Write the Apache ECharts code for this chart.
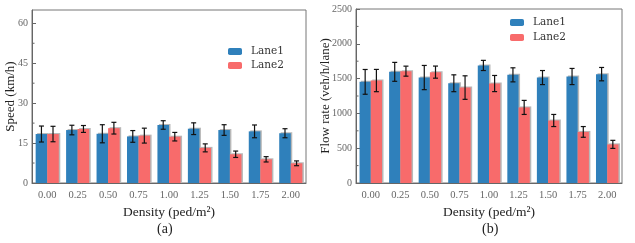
<!DOCTYPE html>
<html><head><meta charset="utf-8">
<script src="https://cdn.jsdelivr.net/npm/echarts@6/dist/echarts.min.js"></script>
<style>html,body{margin:0;padding:0;background:#fff}#c{width:635px;height:243px}</style>
</head><body><div id="c"></div>
<script>
const categories = ['0.00','0.25','0.50','0.75','1.00','1.25','1.50','1.75','2.00'];
const speedLane1 = [18.4, 19.9, 18.5, 17.5, 21.8, 20.4, 19.9, 19.4, 18.7];
const speedLane1Err = [3.0, 1.8, 3.4, 2.2, 1.6, 2.2, 2.0, 2.4, 1.7];
const speedLane2 = [18.4, 20.3, 20.6, 17.8, 17.4, 13.2, 10.8, 8.9, 7.4];
const speedLane2Err = [2.9, 1.3, 2.2, 2.8, 1.6, 1.5, 1.2, 1.0, 0.9];
const flowLane1 = [1453, 1597, 1515, 1433, 1689, 1554, 1515, 1530, 1564];
const flowLane1Err = [178, 136, 174, 121, 73, 101, 101, 116, 96];
const flowLane2 = [1472, 1607, 1593, 1371, 1429, 1086, 898, 734, 555];
const flowLane2Err = [160, 72, 87, 169, 116, 101, 87, 77, 58];
const speedTicks = [0, 15, 30, 45, 60];
const speedMinorTicks = [7.5, 22.5, 37.5, 52.5];
const flowTicks = [0, 500, 1000, 1500, 2000, 2500];
const flowMinorTicks = [250, 750, 1250, 1750, 2250];

const BLUE = '#2f80bb', RED = '#f86b6b';
const FONT = 'Liberation Serif';
const catGap = 0.24;

function errSeries(gi, vals, errs, side) {
  return {
    type: 'custom', xAxisIndex: gi, yAxisIndex: gi, z: 10,
    data: vals.map((v, i) => [i, v, errs[i]]),
    renderItem: function (params, api) {
      const x = api.value(0), v = api.value(1), e = api.value(2);
      const band = api.size([1, 0])[0];
      const off = side * band * (1 - catGap) / 4;
      const top = api.coord([x, v + e]);
      const bot = api.coord([x, v - e]);
      const cx = top[0] + off;
      const w = 2.5;
      const st = { stroke: '#111', lineWidth: 1.2 };
      return { type: 'group', children: [
        { type: 'line', shape: { x1: cx, y1: top[1], x2: cx, y2: bot[1] }, style: st },
        { type: 'line', shape: { x1: cx - w, y1: top[1], x2: cx + w, y2: top[1] }, style: st },
        { type: 'line', shape: { x1: cx - w, y1: bot[1], x2: cx + w, y2: bot[1] }, style: st }
      ]};
    }
  };
}
function barSeries(gi, name, vals, color) {
  return {
    type: 'bar', name: name, xAxisIndex: gi, yAxisIndex: gi,
    data: vals, barGap: '0%', barCategoryGap: (catGap * 100) + '%',
    itemStyle: { color: color, shadowColor: '#b8b8b8', shadowOffsetX: 1.5, shadowOffsetY: -1, shadowBlur: 0 }
  };
}
function yAxis(gi, name, max, ticks, gap) {
  return {
    type: 'value', gridIndex: gi, min: 0, max: max,
    name: name, nameLocation: 'middle', nameGap: gap, nameMoveOverlap: false,
    nameTextStyle: { fontFamily: FONT, fontSize: 13, color: '#222' },
    axisLine: { show: true, lineStyle: { color: '#666' } },
    axisTick: { show: true, inside: true, length: 4, customValues: ticks, lineStyle: { color: '#666' } },
    minorTick: { show: false },
    splitLine: { show: false },
    axisLabel: { fontFamily: FONT, fontSize: 10, color: '#666', margin: 4, customValues: ticks, formatter: function (v) { return String(v); } }
  };
}
function minorTickSeries(gi, minor) {
  return {
    type: 'custom', xAxisIndex: gi, yAxisIndex: gi, z: 5, silent: true,
    data: minor.map(function (m) { return [0, m]; }),
    renderItem: function (params, api) {
      const p = api.coord([0, api.value(1)]);
      const x0 = params.coordSys.x;
      return { type: 'line', shape: { x1: x0, y1: p[1], x2: x0 + 2.5, y2: p[1] }, style: { stroke: '#666', lineWidth: 1 } };
    }
  };
}
function xAxis(gi) {
  return {
    type: 'category', gridIndex: gi, data: categories,
    name: 'Density (ped/m²)', nameLocation: 'middle', nameGap: 21,
    nameTextStyle: { fontFamily: FONT, fontSize: 13.5, color: '#222' },
    axisLine: { show: true, lineStyle: { color: '#666' } },
    axisTick: { show: false },
    axisLabel: { fontFamily: FONT, fontSize: 10.5, color: '#666', margin: 7 }
  };
}
const legendText = { fontFamily: 'DejaVu Serif', fontSize: 10.5, color: '#333', padding: [0, 0, 0, 4] };
const chart = echarts.init(document.getElementById('c'));
chart.setOption({
  animation: false,
  grid: [
    { left: 32, right: 329, top: 10, bottom: 60, show: true, borderColor: '#777', borderWidth: 1, outerBoundsMode: 'none', containLabel: false },
    { left: 356, right: 13, top: 9, bottom: 60, show: true, borderColor: '#777', borderWidth: 1, outerBoundsMode: 'none', containLabel: false }
  ],
  xAxis: [xAxis(0), xAxis(1)],
  yAxis: [yAxis(0, 'Speed (km/h)', 65, speedTicks, 15), yAxis(1, 'Flow rate (veh/h/lane)', 2500, flowTicks, 24)],
  legend: [
    { orient: 'vertical', left: 228, top: 46, padding: 0, itemWidth: 14, itemHeight: 7, itemGap: 3,
      data: ['Lane1', 'Lane2'], textStyle: legendText },
    { orient: 'vertical', left: 510, top: 17, padding: 0, itemWidth: 14, itemHeight: 7, itemGap: 4,
      data: ['Lane1', 'Lane2'], textStyle: legendText }
  ],
  graphic: [
    { type: 'text', left: 157, top: 222, style: { text: '(a)', font: '14px "Liberation Serif"', fill: '#222' } },
    { type: 'text', left: 482, top: 222, style: { text: '(b)', font: '14px "Liberation Serif"', fill: '#222' } }
  ],
  series: [
    barSeries(0, 'Lane1', speedLane1, BLUE),
    barSeries(0, 'Lane2', speedLane2, RED),
    errSeries(0, speedLane1, speedLane1Err, -1),
    errSeries(0, speedLane2, speedLane2Err, 1),
    minorTickSeries(0, speedMinorTicks),
    barSeries(1, 'Lane1', flowLane1, BLUE),
    barSeries(1, 'Lane2', flowLane2, RED),
    errSeries(1, flowLane1, flowLane1Err, -1),
    errSeries(1, flowLane2, flowLane2Err, 1),
    minorTickSeries(1, flowMinorTicks)
  ]
});
</script></body></html>
